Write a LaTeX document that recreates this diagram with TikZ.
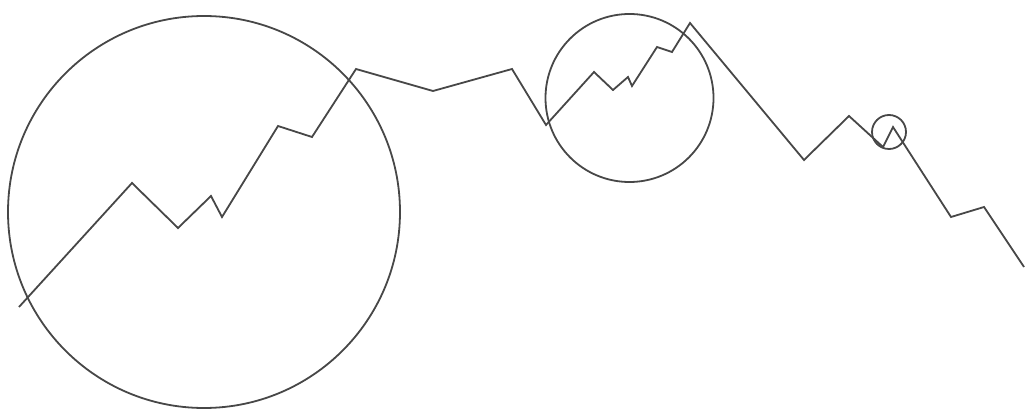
\documentclass[tikz,border=0pt]{standalone}
\begin{document}
\begin{tikzpicture}[x=1pt,y=-1pt,line/.style={draw=black!72,line width=1.8pt,line join=miter},ring/.style={draw=black!72,line width=1.8pt}]
\useasboundingbox (0,0) rectangle (1025,411);
\draw[ring] (204,212) circle[radius=196];
\draw[ring] (629.5,98) circle[radius=84];
\draw[ring] (889,132) circle[radius=17];
\draw[line] (19,307) -- (132,183) -- (178,228) -- (211,196) -- (222,217) -- (278,126) -- (312,137) -- (356,69)
  -- (433,91) -- (512,69) -- (546,125) -- (594,72) -- (613,90) -- (628,77) -- (632,86) -- (657,47) -- (672,52) -- (690,23)
  -- (804,160) -- (849,116) -- (883,147) -- (893,127) -- (951,217) -- (984,207) -- (1024,267);
\end{tikzpicture}
\end{document}
